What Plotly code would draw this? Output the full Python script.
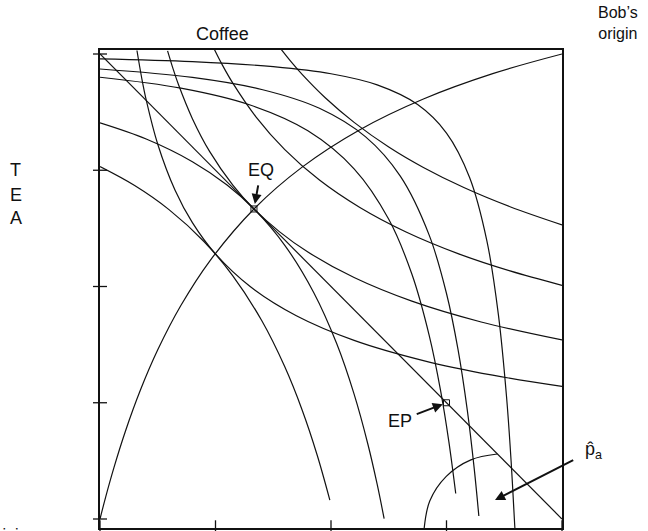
import plotly.graph_objects as go

# ---------------- data ----------------
tick_values = [0, 1, 2, 3, 4]

# Alice's indifference curves (bowed toward Alice's origin, bottom-left)
alice_ic1_x = [0.32, 0.36, 0.4, 0.5, 0.65, 0.8, 1.0, 1.3, 1.7, 2.2, 2.8, 3.4, 4.0]
alice_ic1_y = [4.03, 3.80, 3.605, 3.224, 2.828, 2.549, 2.28, 2.0, 1.749, 1.537, 1.363, 1.237, 1.14]
alice_ic2_x = [0.585, 0.63, 0.68, 0.8, 0.95, 1.15, 1.333, 1.55, 1.8, 2.2, 2.7, 3.3, 4.0]
alice_ic2_y = [4.027, 3.881, 3.735, 3.444, 3.160, 2.872, 2.667, 2.474, 2.296, 2.077, 1.874, 1.695, 1.54]
alice_ic3_x = [0.99, 1.06, 1.15, 1.35, 1.6, 1.9, 2.25, 2.65, 3.1, 3.55, 4.0]
alice_ic3_y = [4.04, 3.904, 3.749, 3.460, 3.178, 2.916, 2.68, 2.469, 2.283, 2.134, 2.01]
alice_ic4_x = [1.57, 1.65, 1.75, 1.95, 2.2, 2.5, 2.8, 3.15, 3.55, 4.0]
alice_ic4_y = [4.038, 3.939, 3.825, 3.624, 3.412, 3.200, 3.024, 2.851, 2.686, 2.53]

# Bob's indifference curves (bowed toward Bob's origin, top-right)
bob_ic1_x = [0, 0.8, 1.5, 2.0, 2.4, 2.75, 3.0, 3.2, 3.35, 3.45, 3.52, 3.56, 3.59, 3.6]
bob_ic1_y = [3.958, 3.934, 3.891, 3.83, 3.734, 3.565, 3.32, 2.938, 2.391, 1.752, 1.049, 0.488, -0.045, -0.2]
bob_ic2_x = [0, 0.8, 1.4, 1.9, 2.3, 2.6, 2.85, 3.0, 3.1, 3.18, 3.24, 3.28]
bob_ic2_y = [3.871, 3.799, 3.695, 3.533, 3.287, 2.949, 2.442, 1.94, 1.457, 0.936, 0.433, 0.026]
bob_ic3_x = [0, 0.7, 1.3, 1.8, 2.2, 2.5, 2.7, 2.85, 2.95, 3.02, 3.08]
bob_ic3_y = [3.8, 3.706, 3.561, 3.339, 3.012, 2.578, 2.107, 1.58, 1.098, 0.668, 0.219]
bob_ic4_x = [0, 0.4, 0.8, 1.1, 1.333, 1.6, 1.85, 2.05, 2.2, 2.32, 2.4, 2.46]
bob_ic4_y = [3.408, 3.269, 3.074, 2.873, 2.667, 2.354, 1.949, 1.507, 1.074, 0.641, 0.297, 0.003]
bob_ic5_x = [0, 0.3, 0.6, 0.9, 1.15, 1.4, 1.6, 1.75, 1.88, 1.99]
bob_ic5_y = [3.031, 2.868, 2.659, 2.387, 2.092, 1.707, 1.309, 0.938, 0.551, 0.163]

# Contract curve from Alice's origin to Bob's origin
contract_x = [0, 0.05, 0.12, 0.22, 0.35, 0.5, 0.7, 0.95, 1.333, 1.75, 2.25, 2.8, 3.4, 4.0]
contract_y = [0, 0.193, 0.440, 0.755, 1.109, 1.455, 1.836, 2.219, 2.667, 3.027, 3.349, 3.613, 3.831, 4.0]

# Price line between the endowment corners
price_x = [0, 4]
price_y = [4, 0]

# Angle arc (p-hat)
arc_x = [2.805, 2.855, 2.998, 3.211, 3.44]
arc_y = [-0.095, 0.155, 0.367, 0.509, 0.559]

# Points
eq_point = (1.333, 2.667)
ep_point = (3.0, 1.0)
pa_arrow_head = (3.42, 0.163)

# ---------------- figure ----------------
Y_MIN, Y_MAX = -0.0774, 4.0344
INK = "#111111"
FONT = "Liberation Sans, Arial, sans-serif"

fig = go.Figure()

curves = [
    (alice_ic1_x, alice_ic1_y), (alice_ic2_x, alice_ic2_y),
    (alice_ic3_x, alice_ic3_y), (alice_ic4_x, alice_ic4_y),
    (bob_ic1_x, bob_ic1_y), (bob_ic2_x, bob_ic2_y), (bob_ic3_x, bob_ic3_y),
    (bob_ic4_x, bob_ic4_y), (bob_ic5_x, bob_ic5_y),
    (contract_x, contract_y), (arc_x, arc_y),
]
for cx, cy in curves:
    fig.add_trace(go.Scatter(x=cx, y=cy, mode="lines",
                             line=dict(color=INK, width=1.2, shape="spline", smoothing=1.0),
                             hoverinfo="skip"))

fig.add_trace(go.Scatter(x=price_x, y=price_y, mode="lines",
                         line=dict(color=INK, width=1.2), hoverinfo="skip"))

# EQ / EP markers
fig.add_trace(go.Scatter(x=[eq_point[0], ep_point[0]], y=[eq_point[1], ep_point[1]],
                         mode="markers",
                         marker=dict(symbol="square-open", size=6, color=INK,
                                     line=dict(width=1, color=INK)),
                         hoverinfo="skip"))

# crossing tick marks on the left axis and the bottom axis
fig.add_trace(go.Scatter(x=[0] * len(tick_values), y=tick_values, mode="markers",
                         marker=dict(symbol="line-ew", size=10,
                                     line=dict(width=1.3, color=INK)),
                         cliponaxis=False, hoverinfo="skip"))
fig.add_trace(go.Scatter(x=tick_values, y=[Y_MIN] * len(tick_values), mode="markers",
                         marker=dict(symbol="line-ns", size=11,
                                     line=dict(width=1.3, color=INK)),
                         cliponaxis=False, hoverinfo="skip"))

# ---- labels (pixel placement converted to paper coords) ----
L, R, T, B = 100, 562, 50, 528


def paper(px, py):
    return (px - L) / (R - L), (B - py) / (B - T)


def label(text, px, py, size=18, xanchor="center"):
    x, y = paper(px, py)
    fig.add_annotation(x=x, y=y, xref="paper", yref="paper", text=text,
                       showarrow=False, xanchor=xanchor, yanchor="middle",
                       font=dict(family=FONT, size=size, color=INK))


def arrow_label(text, head, tail_px, size=18, startstandoff=0, standoff=0):
    """Label whose arrow runs from the text to a point given in data units."""
    fig.add_annotation(x=head[0], y=head[1], xref="x", yref="y", text=text,
                       showarrow=True, arrowhead=2, arrowsize=1, arrowwidth=2,
                       arrowcolor=INK, ax=tail_px[0], ay=tail_px[1],
                       standoff=standoff, startstandoff=startstandoff,
                       font=dict(family=FONT, size=size, color=INK))


label("Coffee", 222.8, 34.5, 18)
label("Bob’s<br>origin", 596, 23.5, 16, "left")
label("T", 15.5, 169.8)
label("E", 15.5, 194.5)
label("A", 15.5, 217.8)
label("Alice’s origin", -63.6, 534, 16, "left")

# text centre offsets (px) relative to the arrow heads
arrow_label("EQ", eq_point, (7, -39), startstandoff=4, standoff=5)
arrow_label("EP", ep_point, (-47, 18), startstandoff=4, standoff=4)
arrow_label("p\u0302<sub>a</sub>", pa_arrow_head, (98, -50), startstandoff=11, standoff=0)

axis_common = dict(showgrid=False, zeroline=False, showticklabels=False, ticks="",
                   showline=True, mirror=True, linecolor=INK, linewidth=1.5)
fig.update_layout(
    width=648, height=531,
    margin=dict(l=L, r=648 - R, t=T, b=531 - B, pad=0),
    paper_bgcolor="white", plot_bgcolor="white",
    showlegend=False,
    xaxis=dict(range=[0, 4], **axis_common),
    yaxis=dict(range=[Y_MIN, Y_MAX], **axis_common),
    font=dict(family=FONT, color=INK),
)

# the page's default 8px body margin would shift the 648x531 figure inside the window
fig.write_html("out.html", config={"displayModeBar": False},
               post_script="document.body.style.margin='0';")
